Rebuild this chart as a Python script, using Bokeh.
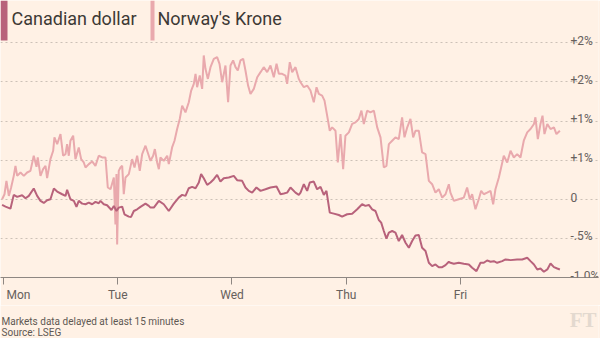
from bokeh.plotting import figure
from bokeh.models import Range1d, FixedTicker, Label, BoxAnnotation, Grid
from bokeh.layouts import column
from bokeh.core.properties import value
from bokeh.embed import file_html
from bokeh.resources import INLINE

# ---- data (percent change, x = trading days since Monday) ----
cad_t = [-0.012, 0.018, 0.061, 0.090, 0.120, 0.163, 0.193, 0.222, 0.265, 0.295,
         0.324, 0.353, 0.382, 0.411, 0.441, 0.470, 0.514, 0.543, 0.557, 0.586,
         0.616, 0.639, 0.659, 0.689, 0.718, 0.747, 0.776, 0.805, 0.834, 0.849,
         0.878, 0.907, 0.945, 0.966, 0.989, 1.009, 1.039, 1.059, 1.097, 1.117,
         1.141, 1.170, 1.199, 1.243, 1.272,
         1.287, 1.316, 1.360, 1.403, 1.447, 1.491, 1.534, 1.564, 1.593, 1.622,
         1.651, 1.681, 1.710, 1.730, 1.753, 1.783, 1.812, 1.841, 1.870, 1.899,
         1.928, 1.972, 2.016, 2.045, 2.089, 2.118, 2.147, 2.177, 2.214, 2.250,
         2.293, 2.337, 2.390, 2.425, 2.454, 2.483, 2.512, 2.556, 2.585,
         2.600, 2.629, 2.658, 2.681, 2.716, 2.745, 2.775, 2.804, 2.827, 2.856,
         2.891, 2.935, 2.964, 3.008, 3.052, 3.096, 3.139, 3.168, 3.198, 3.227,
         3.256, 3.285, 3.306, 3.329, 3.352, 3.373, 3.402, 3.431, 3.460, 3.489,
         3.519, 3.548, 3.577, 3.606, 3.635, 3.664, 3.694, 3.723, 3.752, 3.781,
         3.810, 3.840, 3.869, 3.898,
         3.912, 3.942, 3.985, 4.029, 4.073, 4.102, 4.140, 4.175, 4.204, 4.233,
         4.263, 4.292, 4.321, 4.365, 4.394, 4.438, 4.496, 4.540, 4.584, 4.613,
         4.643, 4.672, 4.700, 4.730, 4.760, 4.788, 4.818, 4.847, 4.870]
cad_v = [-0.073, -0.094, -0.120, 0.056, 0.030, 0.051, 0.013, 0.043, 0.137, 0.043,
         -0.021, -0.047, -0.013, 0.000, 0.137, 0.098, 0.064, 0.043, 0.120, 0.000,
         -0.021, -0.098, -0.021, -0.056, -0.064, -0.043, -0.064, -0.034, -0.051, -0.021,
         -0.064, -0.077, -0.137, -0.085, -0.150, -0.107, -0.094, -0.192, -0.222, -0.226,
         -0.150, -0.128, -0.098, -0.056, -0.085,
         -0.107, -0.107, -0.021, -0.064, -0.150, -0.056, 0.021, 0.056, 0.043, 0.141,
         0.158, 0.141, 0.214, 0.321, 0.269, 0.184, 0.214, 0.256, 0.312, 0.226,
         0.269, 0.278, 0.299, 0.244, 0.235, 0.150, 0.107, 0.085, 0.150, 0.107,
         0.128, 0.150, 0.162, 0.064, 0.073, 0.085, 0.150, 0.085, 0.056,
         0.085, 0.192, 0.107, 0.214, 0.226, 0.128, 0.158, 0.056, 0.107, -0.171,
         -0.184, -0.201, -0.222, -0.192, -0.184, -0.128, -0.064, -0.085, -0.073, -0.128,
         -0.150, -0.265, -0.299, -0.406, -0.504, -0.427, -0.406, -0.427, -0.534, -0.457,
         -0.556, -0.620, -0.534, -0.462, -0.457, -0.620, -0.662, -0.812, -0.855, -0.833,
         -0.868, -0.868, -0.842, -0.799,
         -0.812, -0.825, -0.812, -0.825, -0.833, -0.876, -0.919, -0.812, -0.812, -0.782,
         -0.799, -0.791, -0.812, -0.791, -0.769, -0.778, -0.769, -0.769, -0.748, -0.791,
         -0.833, -0.897, -0.885, -0.927, -0.897, -0.821, -0.868, -0.885, -0.897]

nok_t = [-0.012, 0.009, 0.026, 0.047, 0.067, 0.090, 0.105, 0.120, 0.149, 0.178,
         0.207, 0.236, 0.265, 0.289, 0.300, 0.324, 0.347, 0.368, 0.382, 0.411,
         0.435, 0.446, 0.470, 0.499, 0.522, 0.543, 0.557, 0.572, 0.586, 0.610,
         0.630, 0.659, 0.680, 0.703, 0.718, 0.747, 0.776, 0.805, 0.834, 0.864,
         0.893, 0.913, 0.937, 0.966, 0.980, 0.989, 0.995, 1.009, 1.024, 1.039,
         1.053, 1.068, 1.097, 1.126, 1.147, 1.170, 1.193, 1.214, 1.243, 1.272,
         1.287, 1.310, 1.325, 1.345, 1.360, 1.374, 1.403, 1.433, 1.447, 1.476,
         1.497, 1.520, 1.543, 1.564, 1.593, 1.622, 1.643, 1.666, 1.681, 1.695,
         1.718, 1.739, 1.753, 1.768, 1.789, 1.812, 1.841, 1.870, 1.891, 1.914,
         1.943, 1.966, 1.987, 2.010, 2.031, 2.051, 2.074, 2.098, 2.118, 2.141,
         2.162, 2.191, 2.221, 2.250, 2.278, 2.308, 2.337, 2.366, 2.390, 2.410,
         2.439, 2.468, 2.483, 2.506, 2.527, 2.556, 2.585,
         2.600, 2.629, 2.658, 2.687, 2.716, 2.740, 2.760, 2.789, 2.810, 2.833,
         2.856, 2.877, 2.906, 2.926, 2.950, 2.973, 2.993, 3.023, 3.052, 3.081,
         3.110, 3.133, 3.154, 3.183, 3.212, 3.242, 3.271, 3.300, 3.329, 3.352,
         3.373, 3.402, 3.431, 3.460, 3.489, 3.510, 3.534, 3.562, 3.586, 3.606,
         3.635, 3.664, 3.694, 3.723, 3.752, 3.781, 3.810, 3.840, 3.869, 3.898,
         3.912, 3.942, 3.985, 4.029, 4.058, 4.082, 4.102, 4.131, 4.160, 4.181,
         4.204, 4.233, 4.263, 4.286, 4.306, 4.336, 4.356, 4.379, 4.409, 4.438,
         4.467, 4.496, 4.525, 4.554, 4.584, 4.613, 4.643, 4.656, 4.677, 4.700,
         4.718, 4.735, 4.760, 4.788, 4.818, 4.840, 4.870]
nok_v = [0.000, 0.064, 0.235, 0.043, 0.150, 0.299, 0.427, 0.299, 0.342, 0.299,
         0.342, 0.363, 0.556, 0.415, 0.534, 0.299, 0.385, 0.427, 0.269, 0.513,
         0.620, 0.791, 0.705, 0.833, 0.556, 0.577, 0.705, 0.556, 0.748, 0.812,
         0.513, 0.662, 0.513, 0.470, 0.406, 0.449, 0.483, 0.427, 0.556, 0.534,
         0.534, 0.150, 0.128, 0.278, -0.321, 0.321, -0.577, 0.363, 0.406, 0.427,
         0.064, 0.278, 0.321, 0.513, 0.406, 0.556, 0.363, 0.577, 0.684, 0.556,
         0.491, 0.556, 0.641, 0.470, 0.385, 0.534, 0.491, 0.556, 0.449, 0.662,
         0.748, 0.897, 1.026, 1.197, 1.111, 1.239, 1.389, 1.474, 1.603, 1.432,
         1.581, 1.410, 1.838, 1.667, 1.538, 1.688, 1.795, 1.816, 1.731, 1.496,
         1.709, 1.239, 1.709, 1.774, 1.688, 1.645, 1.774, 1.795, 1.645, 1.453,
         1.346, 1.410, 1.560, 1.624, 1.688, 1.624, 1.709, 1.560, 1.731, 1.603,
         1.603, 1.581, 1.474, 1.752, 1.624, 1.688, 1.538,
         1.496, 1.432, 1.453, 1.389, 1.239, 1.432, 1.346, 1.325, 1.261, 1.068,
         0.876, 0.919, 0.876, 0.470, 0.833, 0.385, 0.812, 0.855, 0.962, 0.983,
         1.026, 1.132, 0.962, 1.132, 1.111, 1.132, 0.919, 0.791, 0.406, 0.427,
         0.705, 0.748, 0.791, 0.769, 1.047, 0.791, 0.919, 1.026, 0.791, 0.876,
         0.876, 0.598, 0.577, 0.235, 0.192, 0.085, 0.128, 0.021, 0.064, 0.192,
         0.085, -0.021, 0.000, 0.021, 0.150, 0.000, 0.064, -0.128, 0.000, 0.107,
         0.064, 0.085, 0.107, -0.064, 0.128, 0.278, 0.406, 0.556, 0.470, 0.620,
         0.534, 0.577, 0.534, 0.748, 0.855, 0.897, 0.962, 1.047, 0.769, 0.962,
         1.068, 0.833, 0.962, 0.897, 0.919, 0.833, 0.876]

day_ticks = [0, 1, 2, 3, 4]
day_labels = ["Mon", "Tue", "Wed", "Thu", "Fri"]
y_ticks = [2.0, 1.5, 1.0, 0.5, 0.0, -0.5, -1.0]
y_labels = ["+2%", "+2%", "+1%", "+1%", "0", "-.5%", "-1.0%"]
series_names = ["Canadian dollar", "Norway's Krone"]
footer_lines = ["Markets data delayed at least 15 minutes", "Source: LSEG"]

# ---- style ----
BG = "#FFF1E5"
CAD_C = "#B8627B"
NOK_C = "#E9A9AD"
TXT = "#66605C"
AX = "#8E8782"
FONT = "Roboto"

p = figure(width=600, height=305, output_backend="svg", toolbar_location=None,
           x_range=Range1d(-0.026, 5.208), y_range=Range1d(-1.0, 2.54),
           y_axis_location=None, x_axis_location="below",
           min_border_left=0, min_border_right=2, min_border_top=0,
           min_border_bottom=28,
           background_fill_color=BG, border_fill_color=BG,
           outline_line_color=None)

p.xgrid.visible = False
p.ygrid.visible = False
grid = Grid(dimension=1, ticker=FixedTicker(ticks=y_ticks[:-1]),
            grid_line_color="#CCC1B7", grid_line_dash="2 3", grid_line_width=1)
p.add_layout(grid, "center")

p.line(nok_t, nok_v, line_color=NOK_C, line_width=2)
p.line(cad_t, cad_v, line_color=CAD_C, line_width=2)

ax = p.xaxis[0]
ax.ticker = FixedTicker(ticks=day_ticks)
pad = "\u00a0" * 2  # first label sits just right of its tick, as in the original
ax.major_label_overrides = {t: (lab if i > 0 else pad + lab)
                            for i, (t, lab) in enumerate(zip(day_ticks, day_labels))}
ax.axis_line_color = AX
ax.major_tick_line_color = AX
ax.major_tick_in = 0
ax.major_tick_out = 7
ax.minor_tick_line_color = None
ax.major_label_text_font = FONT
ax.major_label_text_font_size = "12px"
ax.major_label_text_color = TXT
ax.major_label_standoff = 3

for v, lab in zip(y_ticks, y_labels):
    p.add_layout(Label(x=570, x_units="screen", y=v, y_offset=2, text=lab,
                       text_align="left", text_baseline="alphabetic",
                       text_font=FONT, text_font_size="12px", text_color=TXT))

# legend
p.add_layout(BoxAnnotation(left=0, right=7, top=277, bottom=237,
                           left_units="screen", right_units="screen",
                           top_units="screen", bottom_units="screen",
                           fill_color=CAD_C, fill_alpha=1, line_color=None))
p.add_layout(BoxAnnotation(left=150, right=154, top=277, bottom=237,
                           left_units="screen", right_units="screen",
                           top_units="screen", bottom_units="screen",
                           fill_color=NOK_C, fill_alpha=1, line_color=None))
p.add_layout(Label(x=11, y=259, x_units="screen", y_units="screen", text=series_names[0],
                   text_baseline="alphabetic", text_font=FONT, text_font_size="18px",
                   text_color="#3D3935"))
p.add_layout(Label(x=157, y=259, x_units="screen", y_units="screen", text=series_names[1],
                   text_baseline="alphabetic", text_font=FONT, text_font_size="18px",
                   text_color="#3D3935"))

# footer strip
f = figure(width=600, height=33, output_backend="svg", toolbar_location=None,
           x_range=Range1d(0, 600), y_range=Range1d(0, 33),
           x_axis_location=None, y_axis_location=None,
           min_border_left=0, min_border_right=0, min_border_top=0, min_border_bottom=0,
           background_fill_color=BG, border_fill_color=BG, outline_line_color=None)
f.xgrid.visible = False
f.ygrid.visible = False
f.text(x=[1, 1], y=[17, 6], text=footer_lines, text_font=value(FONT),
       text_font_size="10px", text_color="#5E5853", text_baseline="alphabetic",
       text_align="left")
f.text(x=[598], y=[7], text=["FT"], text_font=value("Liberation Serif"),
       text_font_style="bold", text_font_size="21px", text_color="#E3D9CF",
       text_baseline="bottom", text_align="right")

layout = column(p, f, spacing=0)
open("out.html", "w").write(file_html(layout, INLINE))
